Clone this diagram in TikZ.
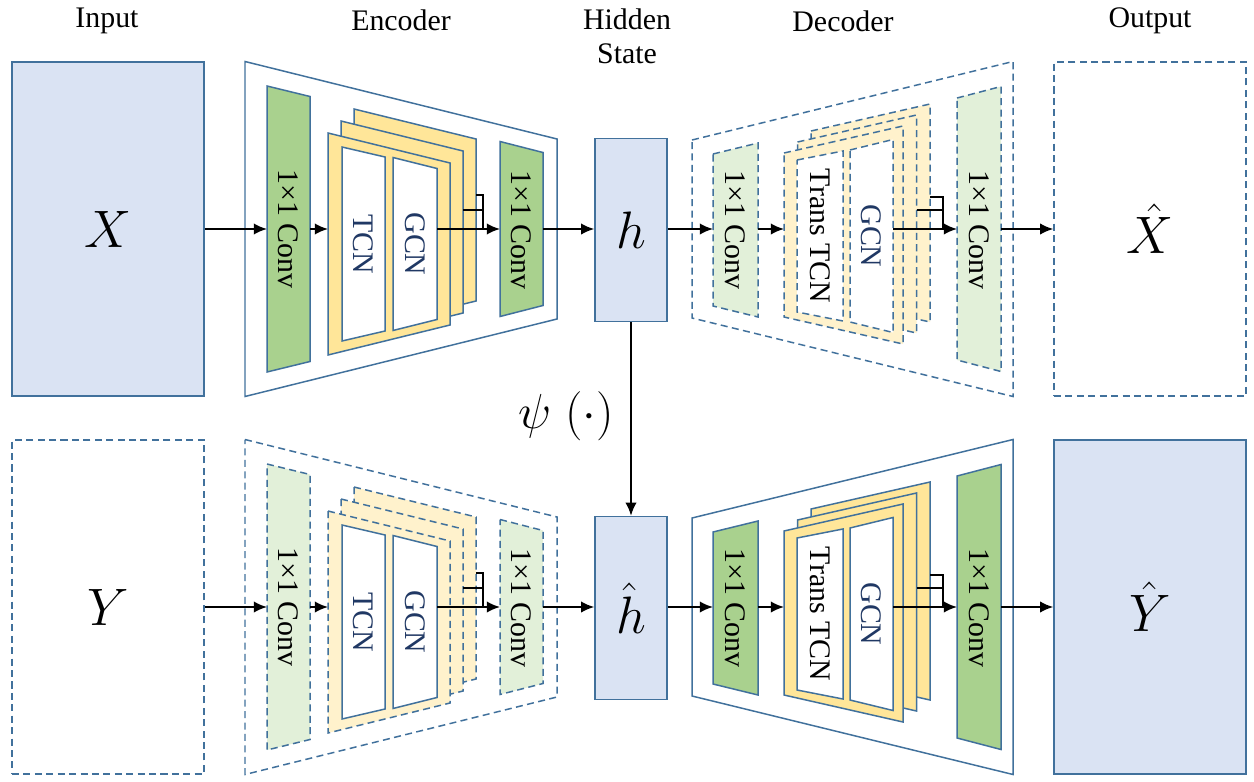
\documentclass[tikz,border=0pt]{standalone}
\usepackage{fix-cm}
\usepackage{fontspec}
\setmainfont{Liberation Serif}
\usetikzlibrary{arrows.meta}

\definecolor{edgeblue}{HTML}{41719C}
\definecolor{boxblue}{HTML}{DAE3F3}
\definecolor{convgreen}{HTML}{A9D18E}
\definecolor{palegreen}{HTML}{E2F0D9}
\definecolor{gcnyellow}{HTML}{FFE699}
\definecolor{paleyellow}{HTML}{FFF2CC}
\definecolor{labelnavy}{HTML}{203864}

\tikzset{
  solid edge/.style={draw=edgeblue, line width=0.85pt},
  dash edge/.style={draw=edgeblue, line width=0.85pt, dash pattern=on 4pt off 2.5pt},
  outs/.style={solid edge, fill=white},
  outd/.style={dash edge, fill=white},
  convs/.style={solid edge, fill=convgreen},
  convd/.style={dash edge, fill=palegreen},
  yels/.style={solid edge, fill=gcnyellow},
  yeld/.style={dash edge, fill=paleyellow},
  inns/.style={solid edge, fill=white},
  innd/.style={dash edge, fill=white},
  iobox/.style={minimum width=3.84cm, minimum height=6.68cm, inner sep=0pt,
    font=\fontsize{30}{36}\selectfont},
  hbox/.style={solid edge, fill=boxblue, minimum width=1.44cm, minimum height=3.66cm,
    inner sep=0pt, font=\fontsize{30}{36}\selectfont},
  vtext/.style={rotate=-90, inner sep=0pt, font=\fontsize{17}{20}\selectfont},
  ntext/.style={vtext, text=labelnavy},
  headtxt/.style={font=\fontsize{17}{19.5}\selectfont, align=center},
  arr/.style={-{Latex[length=7.5pt,width=6.5pt]}, line width=1.1pt},
  skip/.style={line width=1.1pt},
}

% trapezoid: name, left x, right x, centre y, left half height, right half height, style
\newcommand{\trap}[7]{%
  \draw[#7] (#2,#4-#5) -- (#3,#4-#6) -- (#3,#4+#6) -- (#2,#4+#5) -- cycle;
  \coordinate (#1-w) at (#2,0);
  \coordinate (#1-e) at (#3,0);
}

% encoder: prefix, outer, conv, layer, inner
\newcommand{\encoder}[5]{%
  \trap{#1-o}{245}{557}{0}{167.5}{90}{#2}
  \trap{#1-c1}{267}{310}{0}{143}{132.5}{#3}
  % stacked layers
  \trap{#1-b}{354}{476}{-9}{111}{81}{#4}
  \trap{#1-m}{341}{463}{3}{111}{81}{#4}
  \trap{#1-f}{328}{450}{15}{111}{81}{#4}
  \trap{#1-t}{342}{385}{15}{97}{87}{#5}
  \trap{#1-g}{393}{437}{15}{86.5}{75.5}{#5}
  \trap{#1-c2}{500}{543}{0}{87.5}{76.5}{#3}
  % labels
  \node[vtext] (#1-c1t) at (288.5,0) {1×1 Conv};
  \node[ntext] (#1-tt) at (363.5,15) {TCN};
  \node[ntext] (#1-gt) at (415,15) {GCN};
  \node[vtext] (#1-c2t) at (521.5,1) {1×1 Conv};
  \coordinate (#1-j) at (483,0);
}

% decoder: prefix, outer, conv, layer, inner
\newcommand{\decoder}[5]{%
  \trap{#1-o}{692}{1013}{0}{89}{167.5}{#2}
  \trap{#1-c1}{713}{758}{1}{76}{87}{#3}
  % stacked layers
  \trap{#1-b}{811}{930}{-16}{82}{109}{#4}
  \trap{#1-m}{797.5}{916.5}{-5}{82}{109}{#4}
  \trap{#1-f}{784}{903}{6}{82}{109}{#4}
  \trap{#1-t}{797}{843}{7}{76}{85}{#5}
  \trap{#1-g}{850}{893}{7}{86}{96.5}{#5}
  \trap{#1-c2}{957}{1001}{0}{131}{142.5}{#3}
  % labels
  \node[vtext] (#1-c1t) at (735.5,1) {1×1 Conv};
  \node[vtext] (#1-tt) at (820,7) {Trans TCN};
  \node[ntext] (#1-gt) at (871.5,7) {GCN};
  \node[vtext] (#1-c2t) at (979,1) {1×1 Conv};
  \coordinate (#1-j) at (943,0);
}

\begin{document}
\begin{tikzpicture}[x=0.02cm, y=-0.02cm]
    \useasboundingbox (0,0) rectangle (1254,781);

    % Column titles
    \node[headtxt] (tin) at (107,21) {Input};
    \node[headtxt] (tenc) at (401,20) {Encoder};
    \node[headtxt] (thid) at (627,36) {Hidden\\State};
    \node[headtxt] (tdec) at (843,21) {Decoder};
    \node[headtxt] (tout) at (1150,21) {Output};

    % Upper row
    \begin{scope}[shift={(0,229)}]
        \node[iobox, solid edge, fill=boxblue] (inx) at (108,0) {$X$};
        \encoder{ex}{outs}{convs}{yels}{inns}
        \node[hbox] (h) at (631,1) {$h$};
        \decoder{dx}{outd}{convd}{yeld}{innd}
        \node[iobox, dash edge, fill=white] (outx) at (1150,0) {$\hat{X}$};
        % connectors
        \draw[arr] (inx.east) -- (ex-c1-w);
        \draw[arr] (ex-c1-e) -- (ex-f-w);
        \draw[arr] (ex-g-e) -- (ex-c2-w);
        \draw[skip] (ex-b-e |- 0,-34) -- (ex-j |- 0,-34) -- (ex-j);
        \draw[skip] (ex-m-e |- 0,-19) -- (ex-j |- 0,-19);
        \draw[arr] (ex-c2-e) -- (h.west |- ex-c2-e);
        \draw[arr] (h.east |- dx-c1-w) -- (dx-c1-w);
        \draw[arr] (dx-c1-e) -- (dx-f-w);
        \draw[arr] (dx-g-e) -- (dx-c2-w);
        \draw[skip] (dx-b-e |- 0,-32) -- (dx-j |- 0,-32) -- (dx-j);
        \draw[skip] (dx-m-e |- 0,-19) -- (dx-j |- 0,-19);
        \draw[arr] (dx-c2-e) -- (outx.west);
    \end{scope}

    % Lower row
    \begin{scope}[shift={(0,607)}]
        \node[iobox, dash edge, fill=white] (iny) at (108,0) {$Y$};
        \encoder{ey}{outd}{convd}{yeld}{inns}
        \node[hbox] (hh) at (631,1) {$\hat{h}$};
        \decoder{dy}{outs}{convs}{yels}{inns}
        \node[iobox, solid edge, fill=boxblue] (outy) at (1150,0) {$\hat{Y}$};
        % connectors
        \draw[arr] (iny.east) -- (ey-c1-w);
        \draw[arr] (ey-c1-e) -- (ey-f-w);
        \draw[arr] (ey-g-e) -- (ey-c2-w);
        \draw[skip] (ey-b-e |- 0,-34) -- (ey-j |- 0,-34) -- (ey-j);
        \draw[skip] (ey-m-e |- 0,-19) -- (ey-j |- 0,-19);
        \draw[arr] (ey-c2-e) -- (hh.west |- ey-c2-e);
        \draw[arr] (hh.east |- dy-c1-w) -- (dy-c1-w);
        \draw[arr] (dy-c1-e) -- (dy-f-w);
        \draw[arr] (dy-g-e) -- (dy-c2-w);
        \draw[skip] (dy-b-e |- 0,-32) -- (dy-j |- 0,-32) -- (dy-j);
        \draw[skip] (dy-m-e |- 0,-19) -- (dy-j |- 0,-19);
        \draw[arr] (dy-c2-e) -- (outy.west);
    \end{scope}

    % Mapping between hidden states
    \draw[arr] (h.south) -- (hh.north);
    \node[font=\fontsize{28}{32}\selectfont] (psi) at (566,416) {$\psi\;(\cdot)$};
\end{tikzpicture}
\end{document}
